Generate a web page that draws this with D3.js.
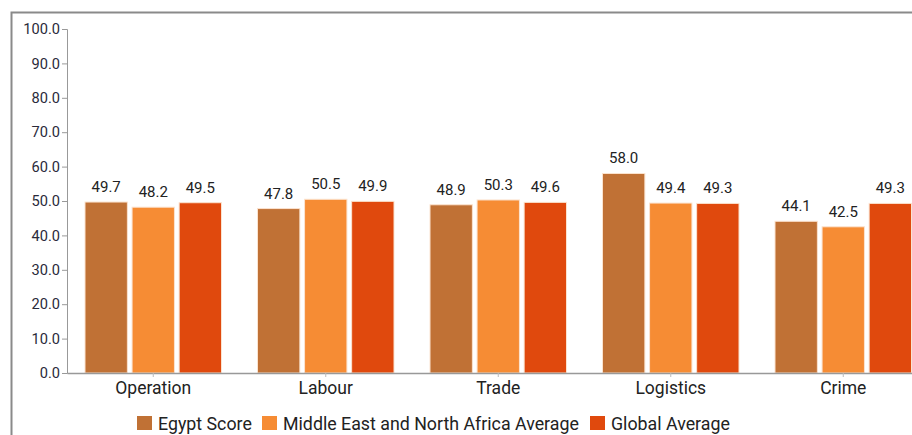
<!DOCTYPE html>
<html><head><meta charset="utf-8">
<script src="https://cdn.jsdelivr.net/npm/d3@7"></script>
<style>
html,body{margin:0;padding:0;background:#fff;}
svg{display:block;font-family:Roboto, "Open Sans", sans-serif;}
</style></head>
<body><svg id="c" width="912" height="435"></svg>
<script>
const categories = ["Operation","Labour","Trade","Logistics","Crime"];
const seriesNames = ["Egypt Score","Middle East and North Africa Average","Global Average"];
const egypt = [49.7,47.8,48.9,58.0,44.1];
const mena = [48.2,50.5,50.3,49.4,42.5];
const globalAvg = [49.5,49.9,49.6,49.3,49.3];
const yTicks = [0,10,20,30,40,50,60,70,80,90,100];
const colors = ["#c07135","#f68c34","#e0490d"];

const seriesVals = [egypt, mena, globalAvg];
const svg = d3.select("#c");

// frame
svg.append("path").attr("d","M11.5,435 V12.5 H912").attr("fill","none").attr("stroke","#8a8a8a").attr("stroke-width",2);

const x0 = d3.scaleBand().domain(categories).range([67, 929.5]).paddingInner(0).paddingOuter(0);
const x1 = d3.scaleBand().domain(seriesNames).range([18, x0.bandwidth()-18]).paddingInner(0.1).paddingOuter(0);
const y = d3.scaleLinear().domain([0,100]).range([373, 29]);

const g = svg.append("g");
categories.forEach((c,i)=>{
  seriesNames.forEach((s,j)=>{
    const v = seriesVals[j][i];
    const bx = x0(c)+x1(s);
    g.append("rect").attr("x",bx).attr("y",y(v)).attr("width",x1.bandwidth()).attr("height",y(0)-y(v))
      .attr("fill",colors[j]).attr("stroke","#fbe3cf").attr("stroke-width",1);
    g.append("text").attr("x",bx+x1.bandwidth()/2).attr("y",y(v)-10).attr("text-anchor","middle")
      .attr("font-size",15).attr("fill","#222").text(v.toFixed(1));
  });
});

// y axis
const ya = svg.append("g").attr("transform","translate(67,0)").call(d3.axisLeft(y).tickValues(yTicks).tickFormat(d3.format(".1f")).tickSize(5).tickPadding(2));
ya.select(".domain").attr("stroke","#999");
ya.selectAll(".tick line").attr("stroke","#999");
ya.selectAll("text").attr("font-size",14.6).attr("fill","#2a2a3a").attr("font-family","Roboto, sans-serif");

// x axis
const xa = svg.append("g").attr("transform","translate(0,373)").call(d3.axisBottom(x0).tickSize(4).tickSizeOuter(0).tickPadding(5));
xa.select(".domain").attr("stroke","#999").attr("stroke-width",1.5);
xa.selectAll(".tick line").attr("stroke","#bbb");
xa.selectAll("text").attr("font-size",17.5).attr("fill","#222").attr("font-family","Roboto, sans-serif");

// legend
const legX = [137, 262, 590];
const leg = svg.append("g");
seriesNames.forEach((s,j)=>{
  leg.append("rect").attr("x",legX[j]).attr("y",416).attr("width",15).attr("height",14).attr("fill",colors[j]);
  leg.append("text").attr("x",legX[j]+21).attr("y",430).attr("font-size",17.8).attr("fill","#222").text(s);
});
</script></body></html>
